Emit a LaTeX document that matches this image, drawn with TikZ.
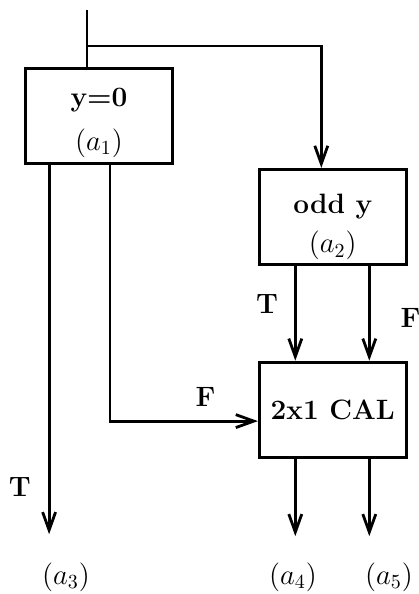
\documentclass[tikz,border=0pt]{standalone}
\usetikzlibrary{arrows.meta,positioning}

\begin{document}
\begin{tikzpicture}[
  x=0.5pt, y=-0.5pt,
  font=\fontsize{14}{19.5}\selectfont\bfseries,
  box/.style = {rectangle, draw, line width=1.4pt, inner sep=0pt, align=center,
                minimum width=73.5pt, minimum height=47.5pt},
  ln/.style  = {line width=1.4pt},
  arr/.style = {ln, -{Straight Barb[length=9pt,width=6.5pt,line width=1.4pt]}},
  lbl/.style = {inner sep=0pt},
]
\useasboundingbox (0,0) rectangle (418,594);

% blocks
\node[box] (a1) at (99,116) {\rule{0pt}{16pt}y=0\\[2.5pt]$(a_1)$};
\node[box, below right=1.5pt and 42pt of a1] (a2) {\rule{0pt}{20pt}odd y\\$(a_2)$};
\node[box, below=47.5pt of a2] (cal) {2x1 CAL};

% exits
\node[lbl] (o3) at (66,577) {$(a_3)$};
\node[lbl] (o4) at (293,577) {$(a_4)$};
\node[lbl] (o5) at (389,577) {$(a_5)$};

% input
\coordinate (in) at (87,10);
\coordinate (split) at (87,46);
\draw[ln] (in) -- (in |- a1.north);
\draw[arr] (split) -| ([xshift=-5.75pt]a2.north);

% y=0
\draw[arr, shorten >=14pt] ([xshift=12.5pt]a1.south west) --
  node[lbl, left=8.5pt, pos=.81] (t1) {T}
  ([xshift=12.5pt]a1.south west |- o3.north);
\draw[arr] ([xshift=5.5pt]a1.south) |-
  node[lbl, above=6.5pt, pos=.823] (f1) {F} ([yshift=-5.75pt]cal.west);

% odd y
\draw[arr] ([xshift=-18.75pt]a2.south) --
  node[lbl, left=8pt, pos=.4] (t2) {T} ([xshift=-18.75pt]cal.north);
\draw[arr] ([xshift=18.25pt]a2.south) --
  node[lbl, right=15pt, pos=.55] (f2) {F} ([xshift=18.25pt]cal.north);

% 2x1 CAL
\draw[arr, shorten >=13pt] ([xshift=-18.75pt]cal.south) --
  ([xshift=-18.75pt]cal.south |- o4.north);
\draw[arr, shorten >=13pt] ([xshift=18.25pt]cal.south) --
  ([xshift=18.25pt]cal.south |- o5.north);
\end{tikzpicture}
\end{document}
